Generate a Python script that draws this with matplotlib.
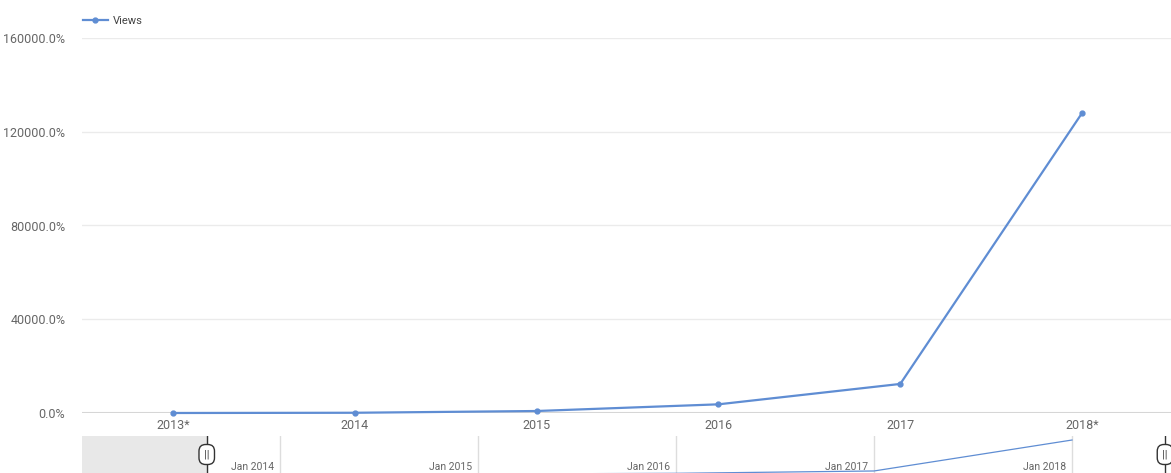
import numpy as np
import matplotlib.pyplot as plt
from matplotlib.lines import Line2D

plt.rcParams['font.family'] = ['Roboto', 'DejaVu Sans']

years = ['2013*', '2014', '2015', '2016', '2017', '2018*']
views_pct = [0, 100, 850, 3700, 12400, 128000]
nav_years = [2013, 2014, 2015, 2016, 2017, 2018]
nav_labels = ['Jan 2014', 'Jan 2015', 'Jan 2016', 'Jan 2017', 'Jan 2018']
yticks = [0, 40000, 80000, 120000, 160000]

blue = '#5f8dd3'
grid = '#ebebeb'
txt = '#666666'

fig = plt.figure(figsize=(11.71, 4.73), dpi=100)

# main chart
ax = fig.add_axes([82 / 1171, 60 / 473, 1091 / 1171, 375 / 473])
x = np.arange(len(years))
ax.plot(x, views_pct, color=blue, lw=1.6, marker='o', ms=3.5, zorder=3, clip_on=False)
ax.set_xlim(-0.5, 5.5)
ax.set_ylim(0, 160000)
ax.set_yticks(yticks)
ax.set_yticklabels([f'{v:.1f}%' for v in yticks])
ax.set_xticks(x)
ax.set_xticklabels(years)
for v in yticks[1:]:
    ax.axhline(v, color=grid, lw=1, zorder=0)
ax.axhline(0, color='#d6d6d6', lw=1.5, zorder=1)
for s in ax.spines.values():
    s.set_visible(False)
ax.tick_params(length=0, colors=txt, labelsize=9)
ax.tick_params(axis='y', pad=12)
ax.tick_params(axis='x', pad=4)

# legend
leg_h = Line2D([], [], color=blue, lw=1.6, marker='o', ms=3.5)
ax.legend([leg_h], ['Views'], loc='lower left', bbox_to_anchor=(-0.003, 1.02),
          frameon=False, fontsize=8, labelcolor='#444444', handlelength=2.2,
          handletextpad=0.5, borderaxespad=0)

# range navigator
nav = fig.add_axes([82 / 1171, 0, 1089 / 1171, 37 / 473])
nav.plot(nav_years, views_pct, color=blue, lw=0.9)
nav.set_xlim(2013, 2013 + 1089 / 198)
nav.set_ylim(4850, 143000)
nav.axvspan(2013, 2013.63, color='#e8e8e8', zorder=0)
for yr, lab in zip(nav_years[1:], nav_labels):
    nav.axvline(yr, color='#dddddd', lw=1, zorder=1)
    nav.text(yr - 0.03, 0.04, lab, transform=nav.get_xaxis_transform(),
             ha='right', va='bottom', fontsize=7.5, color=txt)
for hx in [2013.63, 2013 + 1083 / 198]:
    nav.axvline(hx, color='#333333', lw=1, zorder=4)
    nav.text(hx, 0.5, '||', transform=nav.get_xaxis_transform(), ha='center', va='center',
             fontsize=8, color='#333333', zorder=5,
             bbox=dict(boxstyle='round,pad=0.45,rounding_size=0.6', fc='white', ec='#333333', lw=1))
nav.set_xticks([])
nav.set_yticks([])
for s in nav.spines.values():
    s.set_visible(False)

fig.savefig('out.png', dpi=100)
